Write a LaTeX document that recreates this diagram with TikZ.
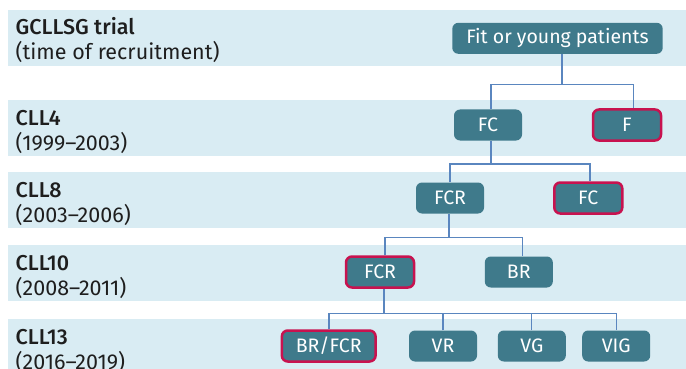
\documentclass[tikz,border=0pt]{standalone}
\usepackage{fontspec}
\setmainfont{Fira Sans}[BoldFont={Fira Sans Medium}]
\definecolor{bandc}{HTML}{D9ECF3}
\definecolor{nodec}{HTML}{3F7A8B}
\definecolor{redc}{HTML}{C8124F}
\definecolor{connc}{HTML}{5A86BF}
\definecolor{txtc}{HTML}{1E1E1E}
\tikzset{
  trt/.style={rounded corners=6pt, fill=nodec, text=white, minimum height=31pt,
    minimum width=68pt, inner xsep=14pt, inner ysep=0pt,
    font=\fontsize{19.5}{22}\selectfont},
  sel/.style={trt, draw=redc, line width=2.5pt},
  conn/.style={draw=connc, line width=1.2pt},
  lab/.style={anchor=base west, inner sep=0pt, text=txtc, font=\fontsize{21.5}{25}\selectfont},
  band/.style={fill=bandc}
}
\begin{document}
\begin{tikzpicture}[x=1pt,y=-1pt]
\useasboundingbox (0,0) rectangle (686,369);
% bands
\fill[band] (8,10) rectangle (686,66);
\fill[band] (8,100) rectangle (686,156);
\fill[band] (8,172) rectangle (686,228);
\fill[band] (8,245) rectangle (686,301);
\fill[band] (8,319) rectangle (686,369);
% labels
\node[lab] (t1a) at (15.5,35) {\bfseries GCLLSG trial};
\node[lab] (t1b) at (15.5,60) {(time of recruitment)};
\node[lab] (t2a) at (15.5,125) {\bfseries CLL4};
\node[lab] (t2b) at (15.5,150) {(1999–2003)};
\node[lab] (t3a) at (15.5,197) {\bfseries CLL8};
\node[lab] (t3b) at (15.5,222) {(2003–2006)};
\node[lab] (t4a) at (15.5,270) {\bfseries CLL10};
\node[lab] (t4b) at (15.5,295) {(2008–2011)};
\node[lab] (t5a) at (15.5,344) {\bfseries CLL13};
\node[lab] (t5b) at (15.5,369) {(2016–2019)};
% nodes
\node[trt] (Fit) at (557.5,38.3) {Fit or young patients};
\node[trt] (FC4) at (488,125) {FC};
\node[sel] (F4) at (627,125) {F};
\node[trt] (FCR8) at (450,198) {FCR};
\node[sel] (FC8) at (588.3,198) {FC};
\node[sel] (FCR10) at (380,272) {FCR};
\node[trt] (BR10) at (518.8,272) {BR};
\node[sel] (BRFCR) at (328.7,346) {BR/FCR};
\node[trt] (VR) at (443,346) {VR};
\node[trt] (VG) at (531.8,346) {VG};
\node[trt] (VIG) at (616.2,346) {VIG};
% connector coordinates
\coordinate (j1) at (562,84.3);
\coordinate (l1) at (491,84.3);
\coordinate (r1) at (633.3,84.3);
\coordinate (j2) at (491,164);
\coordinate (l2) at (450,164);
\coordinate (r2) at (590,164);
\coordinate (j3) at (449,237.7);
\coordinate (l3) at (385,237.7);
\coordinate (r3) at (522.3,237.7);
\coordinate (j4) at (384,313.3);
\coordinate (l4) at (329,313.3);
\coordinate (m4a) at (443,313.3);
\coordinate (m4b) at (531.8,313.3);
\coordinate (r4) at (616.2,313.3);
% connectors
\draw[conn] (Fit.south -| j1) -- (j1);
\draw[conn] (FC4.north -| l1) -- (l1) -- (r1) -- (F4.north -| r1);
\draw[conn] (FC4.south -| j2) -- (j2);
\draw[conn] (FCR8.north -| l2) -- (l2) -- (r2) -- (FC8.north -| r2);
\draw[conn] (FCR8.south -| j3) -- (j3);
\draw[conn] (FCR10.north -| l3) -- (l3) -- (r3) -- (BR10.north -| r3);
\draw[conn] (FCR10.south -| j4) -- (j4);
\draw[conn] (BRFCR.north -| l4) -- (l4) -- (r4) -- (VIG.north -| r4);
\draw[conn] (VR.north) -- (m4a);
\draw[conn] (VG.north) -- (m4b);
\end{tikzpicture}
\end{document}
